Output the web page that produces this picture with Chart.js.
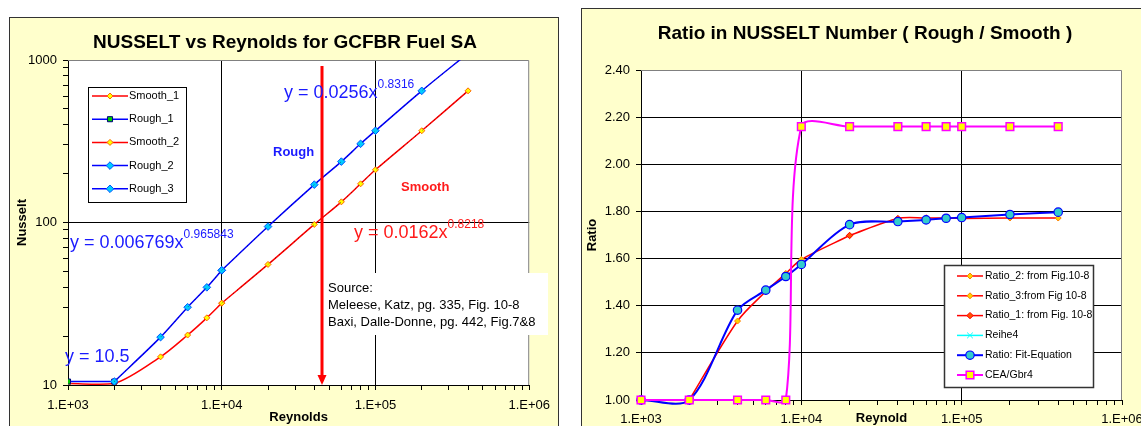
<!DOCTYPE html>
<html>
<head>
<meta charset="utf-8">
<title>Nusselt vs Reynolds</title>
<script src="https://cdn.jsdelivr.net/npm/chart.js@4.4.1/dist/chart.umd.min.js"></script>
<style>
  html, body { margin: 0; padding: 0; background: #fff; overflow: hidden; width: 1141px; height: 426px; }
  .panel { position: absolute; background: #FFFFCC; border: 1px solid #333; overflow: hidden; }
  #leftPanel { left: 9px; top: 17px; width: 548px; height: 420px; }
  #rightPanel { left: 581px; top: 8px; width: 600px; height: 430px; }
  canvas { display: block; }
</style>
</head>
<body>
<div class="panel" id="leftPanel"><canvas id="nuChart" width="548" height="408"></canvas></div>
<div class="panel" id="rightPanel"><canvas id="ratioChart" width="600" height="417"></canvas></div>
<script>
const FONT = '"Liberation Sans", Arial, sans-serif';

// ---- Nusselt vs Reynolds ----
const smooth1Re = [1000, 2000, 4000, 6000, 8000, 10000];
const smooth1Nu = [10.2, 10.2, 14.9, 20.3, 25.9, 31.9];
const smooth2Re = [10000, 20000, 40000, 60000, 80000, 100000, 200000, 400000];
const smooth2Nu = [31.9, 55.2, 97.3, 134, 173, 211, 367, 646];
const rough1Re = [1000, 2000];
const rough1Nu = [10.5, 10.5];
const rough2Re = [2000, 4000, 6000, 8000, 10000];
const rough2Nu = [10.5, 19.7, 30.1, 39.9, 50.8];
const rough3Re = [10000, 20000, 40000, 60000, 80000, 100000, 200000, 400000];
const rough3Nu = [50.8, 94.4, 171, 237, 305, 367, 646, 1100];

// vertical marker arrow
const arrowRe = 45000;
const arrowNu = [920, 10];

// ---- Ratio rough / smooth ----
const ratioRe = [1000, 2000, 4000, 6000, 8000, 10000, 20000, 40000, 60000, 80000, 100000, 200000, 400000];
const ratio2Re = [2000, 4000, 6000, 8000, 10000, 20000];
const ratio2Val = [1.00, 1.335, 1.46, 1.537, 1.596, 1.698];
const ratio3Re = [100000, 200000, 400000];
const ratio3Val = [1.770, 1.772, 1.772];
const ratio1Re = [20000, 40000, 60000, 80000, 100000];
const ratio1Val = [1.698, 1.770, 1.772, 1.772, 1.770];
const fitVal = [1.00, 1.00, 1.381, 1.466, 1.524, 1.575, 1.744, 1.757, 1.764, 1.771, 1.774, 1.787, 1.797];
const ceaVal = [1.00, 1.00, 1.00, 1.00, 1.00, 2.16, 2.16, 2.16, 2.16, 2.16, 2.16, 2.16, 2.16];

// tick labels
const reDecades = [1000, 10000, 100000, 1000000];
const reTickLabels = ['1.E+03', '1.E+04', '1.E+05', '1.E+06'];
const nuDecades = [10, 100, 1000];
const nuTickLabels = ['10', '100', '1000'];
const ratioTickLabels = ['1.00', '1.20', '1.40', '1.60', '1.80', '2.00', '2.20', '2.40'];

function pts(xs, ys) {
  return xs.map((x, i) => ({ x: x, y: ys[i] }));
}

function lookup(v, values, labels) {
  const i = values.findIndex(d => Math.abs(d - v) / d < 1e-6);
  return i < 0 ? '' : labels[i];
}

function isDecade(v) {
  const l = Math.log10(v);
  return Math.abs(l - Math.round(l)) < 1e-6;
}

// the log scale adds 1.5 steps, keep only 1..9 x 10^n
function keepWholeSteps(scale) {
  scale.ticks = scale.ticks.filter(t => {
    const m = t.value / Math.pow(10, Math.floor(Math.log10(t.value) + 1e-9));
    return Math.abs(m - Math.round(m)) < 1e-6;
  });
}

function innerGrid(min, max) {
  return ctx => {
    const v = ctx.tick && ctx.tick.value;
    if (v === undefined) return 'rgba(0,0,0,0)';
    return (isDecade(v) && v > min * 1.0001 && v < max * 0.9999) ? '#000' : 'rgba(0,0,0,0)';
  };
}

function drawMarker(ctx, style, r, x, y, fill, stroke, bw) {
  ctx.save();
  ctx.beginPath();
  if (style === 'circle') {
    ctx.arc(x, y, r, 0, Math.PI * 2);
  } else if (style === 'rect') {
    const s = r * Math.SQRT1_2;
    ctx.rect(x - s, y - s, 2 * s, 2 * s);
  } else if (style === 'rectRot') {
    ctx.moveTo(x - r, y); ctx.lineTo(x, y - r); ctx.lineTo(x + r, y); ctx.lineTo(x, y + r); ctx.closePath();
  } else if (style === 'crossRot') {
    const s = r * Math.SQRT1_2;
    ctx.moveTo(x - s, y - s); ctx.lineTo(x + s, y + s);
    ctx.moveTo(x + s, y - s); ctx.lineTo(x - s, y + s);
  }
  if (style !== 'crossRot') { ctx.fillStyle = fill; ctx.fill(); }
  ctx.strokeStyle = stroke;
  ctx.lineWidth = bw;
  ctx.stroke();
  ctx.restore();
}

function plotBackground(chart) {
  const { ctx, chartArea: a } = chart;
  ctx.save();
  ctx.fillStyle = '#FFFFFF';
  ctx.fillRect(a.left, a.top, a.right - a.left, a.bottom - a.top);
  ctx.restore();
}

function plotFrame(chart) {
  const { ctx, chartArea: a } = chart;
  ctx.save();
  ctx.strokeStyle = '#808080';
  ctx.lineWidth = 1;
  ctx.beginPath();
  ctx.moveTo(a.left, a.top + 0.5);
  ctx.lineTo(a.right - 0.5, a.top + 0.5);
  ctx.lineTo(a.right - 0.5, a.bottom);
  ctx.stroke();
  ctx.restore();
}

function drawTitle(chart, text, x, y) {
  const ctx = chart.ctx;
  ctx.save();
  ctx.font = 'bold 19px ' + FONT;
  ctx.fillStyle = '#000';
  ctx.textAlign = 'center';
  ctx.textBaseline = 'middle';
  ctx.fillText(text, x, y);
  ctx.restore();
}

function drawLegend(chart, box) {
  const ctx = chart.ctx;
  ctx.save();
  ctx.fillStyle = '#FFFFFF';
  ctx.fillRect(box.x, box.y, box.w, box.h);
  ctx.strokeStyle = box.border;
  ctx.lineWidth = box.borderWidth;
  ctx.strokeRect(box.x + 0.5, box.y + 0.5, box.w - 1, box.h - 1);
  ctx.font = box.font;
  ctx.textAlign = 'left';
  ctx.textBaseline = 'middle';
  chart.data.datasets.filter(d => !d.hideInLegend).forEach((d, i) => {
    const y = box.rowY + i * box.rowStep;
    ctx.strokeStyle = d.borderColor;
    ctx.lineWidth = d.borderWidth;
    ctx.beginPath();
    ctx.moveTo(box.lineX0, y);
    ctx.lineTo(box.lineX1, y);
    ctx.stroke();
    drawMarker(ctx, d.pointStyle, d.pointRadius, (box.lineX0 + box.lineX1) / 2, y,
      d.pointBackgroundColor, d.pointBorderColor, d.pointBorderWidth);
    ctx.fillStyle = '#000';
    ctx.fillText(d.label, box.textX, y);
  });
  ctx.restore();
}

function drawPower(ctx, x, y, base, exp, color) {
  ctx.fillStyle = color;
  ctx.textAlign = 'left';
  ctx.textBaseline = 'middle';
  ctx.font = '18px ' + FONT;
  ctx.fillText(base, x, y);
  const w = ctx.measureText(base).width;
  if (exp) {
    ctx.font = '12px ' + FONT;
    ctx.fillText(exp, x + w, y - 8);
  }
}

const nuNotes = {
  id: 'nuNotes',
  beforeDraw(chart) { plotBackground(chart); },
  beforeDatasetsDraw(chart) {
    plotFrame(chart);
    // source box
    const ctx = chart.ctx;
    ctx.save();
    ctx.fillStyle = '#FFFFFF';
    ctx.fillRect(316, 255, 222, 62);
    ctx.fillStyle = '#000';
    ctx.font = '13px ' + FONT;
    ctx.textAlign = 'left';
    ctx.textBaseline = 'middle';
    ctx.fillText('Source:', 318, 270);
    ctx.fillText('Meleese, Katz, pg. 335, Fig. 10-8', 318, 287);
    ctx.fillText('Baxi, Dalle-Donne, pg. 442, Fig.7&8', 318, 304);
    ctx.restore();
  },
  afterDatasetsDraw(chart) {
    const { ctx, scales } = chart;
    const ax = Math.round(scales.x.getPixelForValue(arrowRe));
    const y0 = scales.y.getPixelForValue(arrowNu[0]);
    const y1 = scales.y.getPixelForValue(arrowNu[1]);
    ctx.save();
    ctx.strokeStyle = '#FF0000';
    ctx.fillStyle = '#FF0000';
    ctx.lineWidth = 3;
    ctx.beginPath();
    ctx.moveTo(ax, y0);
    ctx.lineTo(ax, y1 - 8);
    ctx.stroke();
    ctx.beginPath();
    ctx.moveTo(ax - 4.5, y1 - 10);
    ctx.lineTo(ax + 4.5, y1 - 10);
    ctx.lineTo(ax, y1);
    ctx.closePath();
    ctx.fill();

    drawPower(ctx, 274, 75, 'y = 0.0256x', '0.8316', '#1A1AFF');
    drawPower(ctx, 344, 215, 'y = 0.0162x', '0.8218', '#FF1A1A');
    drawPower(ctx, 60, 225, 'y = 0.006769x', '0.965843', '#1A1AFF');
    drawPower(ctx, 55, 339, 'y = 10.5', '', '#1A1AFF');

    ctx.font = 'bold 13px ' + FONT;
    ctx.textBaseline = 'middle';
    ctx.fillStyle = '#1A1AFF';
    ctx.fillText('Rough', 263, 134);
    ctx.fillStyle = '#FF1A1A';
    ctx.fillText('Smooth', 391, 169);
    ctx.restore();
  },
  afterDraw(chart) {
    drawTitle(chart, 'NUSSELT vs Reynolds for GCFBR Fuel SA', 275, 25);
    drawLegend(chart, {
      x: 78, y: 69, w: 99, h: 116, border: '#000', borderWidth: 1,
      font: '11px ' + FONT, rowY: 78, rowStep: 23.2, lineX0: 82, lineX1: 118, textX: 119
    });
  }
};

const ratioNotes = {
  id: 'ratioNotes',
  beforeDraw(chart) { plotBackground(chart); },
  beforeDatasetsDraw(chart) { plotFrame(chart); },
  afterDraw(chart) {
    drawTitle(chart, 'Ratio in NUSSELT Number ( Rough / Smooth )', 283, 25);
    drawLegend(chart, {
      x: 362, y: 256, w: 150, h: 123, border: '#333', borderWidth: 1.5,
      font: '10.5px ' + FONT, rowY: 267, rowStep: 19.8, lineX0: 375, lineX1: 401, textX: 403
    });
  }
};

const smoothMarker = { pointStyle: 'rectRot', pointRadius: 3, pointBackgroundColor: '#FFFF00', pointBorderColor: '#FF6600', pointBorderWidth: 1 };
const roughMarker = { pointStyle: 'rectRot', pointRadius: 3.8, pointBackgroundColor: '#00CCFF', pointBorderColor: '#0055FF', pointBorderWidth: 1 };

function series(label, data, color, marker, order) {
  return Object.assign({
    label: label, data: data, borderColor: color, backgroundColor: color,
    borderWidth: 1.5, tension: 0.3, fill: false, order: order, pointHoverRadius: 0
  }, marker);
}

function trend(data, order) {
  return {
    label: '', hideInLegend: true, data: data, borderColor: 'rgba(0,0,0,0.55)', borderWidth: 1,
    borderDash: [1, 4], pointRadius: 0, tension: 0.3, fill: false, order: order
  };
}

const tickFont = { family: FONT, size: 13 };
const axisTitleFont = { family: FONT, size: 13, weight: 'bold' };

new Chart(document.getElementById('nuChart'), {
  type: 'line',
  data: {
    datasets: [
      series('Smooth_1', pts(smooth1Re, smooth1Nu), '#FF0000', smoothMarker, 5),
      series('Rough_1', pts(rough1Re, rough1Nu), '#0000FF',
        { pointStyle: 'rect', pointRadius: 3.6, pointBackgroundColor: '#00CC00', pointBorderColor: '#000080', pointBorderWidth: 1 }, 3),
      series('Smooth_2', pts(smooth2Re, smooth2Nu), '#FF0000', smoothMarker, 4),
      series('Rough_2', pts(rough2Re, rough2Nu), '#0000FF', roughMarker, 2),
      series('Rough_3', pts(rough3Re, rough3Nu), '#0000FF', roughMarker, 1),
      trend(pts(rough2Re, rough2Nu), 0.5),
      trend(pts(rough3Re, rough3Nu), 0.5),
      trend(pts(smooth2Re, smooth2Nu), 0.5)
    ]
  },
  options: {
    responsive: false,
    animation: false,
    events: [],
    layout: { padding: { top: 42, left: 0, right: 26, bottom: 0 } },
    plugins: { legend: { display: false }, tooltip: { enabled: false }, title: { display: false } },
    scales: {
      x: {
        type: 'logarithmic', min: 1000, max: 1000000,
        afterBuildTicks: keepWholeSteps,
        afterFit(s) { s.height = 41; },
        ticks: { autoSkip: false, maxRotation: 0, padding: 8, color: '#000', font: tickFont,
          callback: v => lookup(v, reDecades, reTickLabels) },
        grid: { color: innerGrid(1000, 1000000), tickColor: '#000', tickLength: 5, lineWidth: 1 },
        border: { color: '#000', width: 1 },
        title: { display: true, text: 'Reynolds', color: '#000', font: axisTitleFont, padding: { top: 0, bottom: 1 } }
      },
      y: {
        type: 'logarithmic', min: 10, max: 1000,
        afterBuildTicks: keepWholeSteps,
        afterFit(s) { s.width = 58; },
        ticks: { autoSkip: false, padding: 6, color: '#000', font: tickFont,
          callback: v => lookup(v, nuDecades, nuTickLabels) },
        grid: { color: innerGrid(10, 1000), tickColor: '#000', tickLength: 5, lineWidth: 1 },
        border: { color: '#000', width: 1 },
        title: { display: true, text: 'Nusselt', color: '#000', font: axisTitleFont, padding: { top: 5, bottom: 0 } }
      }
    }
  },
  plugins: [nuNotes]
});

const ratioMarker = { pointStyle: 'rectRot', pointRadius: 3, pointBackgroundColor: '#FFD000', pointBorderColor: '#FF8000', pointBorderWidth: 1 };
const freeLine = { clip: false, capBezierPoints: false };

new Chart(document.getElementById('ratioChart'), {
  type: 'line',
  data: {
    datasets: [
      series('Ratio_2: from Fig.10-8', pts(ratio2Re, ratio2Val), '#FF0000', ratioMarker, 5),
      series('Ratio_3:from Fig 10-8', pts(ratio3Re, ratio3Val), '#FF0000', ratioMarker, 4),
      series('Ratio_1: from Fig. 10-8', pts(ratio1Re, ratio1Val), '#FF0000',
        { pointStyle: 'rectRot', pointRadius: 3.2, pointBackgroundColor: '#FF5500', pointBorderColor: '#FF0000', pointBorderWidth: 1 }, 3),
      series('Reihe4', [], '#00FFFF',
        { pointStyle: 'crossRot', pointRadius: 4, pointBackgroundColor: '#00FFFF', pointBorderColor: '#00FFFF', pointBorderWidth: 1 }, 2),
      Object.assign(series('Ratio: Fit-Equation', pts(ratioRe, fitVal), '#0000FF',
        { pointStyle: 'circle', pointRadius: 4.2, pointBackgroundColor: '#33CCCC', pointBorderColor: '#0000FF', pointBorderWidth: 1.2 }, 1),
        { borderWidth: 2 }, freeLine),
      Object.assign(series('CEA/Gbr4', pts(ratioRe, ceaVal), '#FF00FF',
        { pointStyle: 'rect', pointRadius: 5.4, pointBackgroundColor: '#FFFF00', pointBorderColor: '#FF00FF', pointBorderWidth: 1.5 }, 0),
        { borderWidth: 2 }, freeLine)
    ]
  },
  options: {
    responsive: false,
    animation: false,
    events: [],
    layout: { padding: { top: 61, left: 0, right: 60, bottom: 0 } },
    plugins: { legend: { display: false }, tooltip: { enabled: false }, title: { display: false } },
    scales: {
      x: {
        type: 'logarithmic', min: 1000, max: 1000000,
        afterBuildTicks: keepWholeSteps,
        afterFit(s) { s.height = 26; },
        ticks: { autoSkip: false, maxRotation: 0, padding: 7, color: '#000', font: tickFont,
          callback: v => lookup(v, reDecades, reTickLabels) },
        grid: { color: innerGrid(1000, 1000000), tickColor: '#000', tickLength: 5, lineWidth: 1 },
        border: { color: '#000', width: 1 },
        title: { display: true, text: 'Reynold', color: '#000', font: axisTitleFont, padding: { top: 0, bottom: 0 } }
      },
      y: {
        min: 1, max: 2.4,
        afterFit(s) { s.width = 59; },
        ticks: { stepSize: 0.2, padding: 6, color: '#000', font: tickFont,
          callback: (v, i) => ratioTickLabels[i] },
        grid: {
          color: ctx => (ctx.tick && ctx.tick.value > 1.001 && ctx.tick.value < 2.399) ? '#000' : 'rgba(0,0,0,0)',
          tickColor: '#000', tickLength: 5, lineWidth: 1
        },
        border: { color: '#000', width: 1 },
        title: { display: true, text: 'Ratio', color: '#000', font: axisTitleFont, padding: { top: 3, bottom: 0 } }
      }
    }
  },
  plugins: [ratioNotes]
});
</script>
</body>
</html>
